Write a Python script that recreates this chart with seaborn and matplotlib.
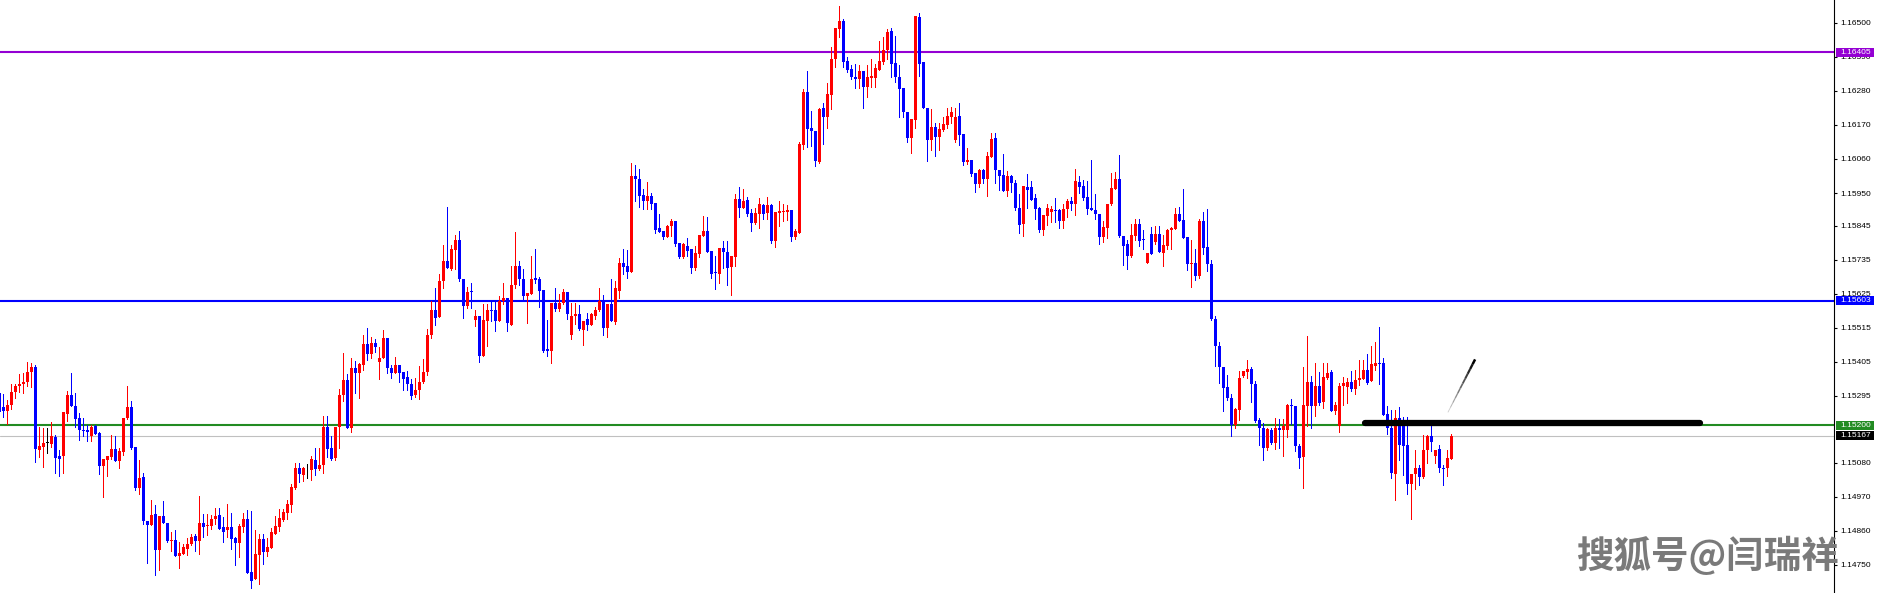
import numpy as np
import pandas as pd
import matplotlib
matplotlib.use("Agg")
import matplotlib.pyplot as plt
import seaborn as sns
from matplotlib.patches import Rectangle
from matplotlib.collections import LineCollection

# candle prices in points (price * 1e5)
opens = [
    115306, 115260, 115247, 115266, 115308, 115327, 115333, 115341, 115371, 115389,
    115122, 115130, 115143, 115141, 115163, 115101, 115102, 115238, 115298, 115263,
    115224, 115186, 115186, 115167, 115197, 115175, 115070, 115089, 115098, 115125,
    115084, 115115, 115224, 115260, 115130, 114999, 115033, 114890, 114879, 114914,
    114797, 114907, 114884, 114826, 114829, 114778, 114785, 114801, 114818, 114842,
    114826, 114884, 114874, 114876, 114897, 114910, 114871, 114861, 114871, 114836,
    114821, 114871, 114897, 114726, 114703, 114783, 114833, 114792, 114805, 114850,
    114873, 114894, 114917, 114944, 114999, 115062, 115041, 115058, 115057, 115088,
    115060, 115073, 115196, 115127, 115096, 115195, 115298, 115347, 115193, 115386,
    115368, 115396, 115464, 115431, 115467, 115403, 115418, 115483, 115386, 115370,
    115396, 115373, 115357, 115334, 115299, 115314, 115339, 115371, 115491, 115574,
    115549, 115665, 115731, 115705, 115765, 115797, 115673, 115585, 115635, 115539,
    115552, 115423, 115536, 115574, 115572, 115538, 115603, 115612, 115525, 115654,
    115716, 115673, 115618, 115624, 115675, 115671, 115638, 115447, 115441, 115596,
    115575, 115596, 115632, 115493, 115554, 115558, 115509, 115543, 115523, 115552,
    115571, 115603, 115513, 115593, 115533, 115635, 115723, 115713, 115694, 116004,
    115996, 115942, 115924, 115939, 115917, 115838, 115826, 115807, 115842, 115859,
    115788, 115743, 115779, 115768, 115709, 115752, 115810, 115826, 115764, 115696,
    115690, 115771, 115759, 115710, 115743, 115932, 115901, 115926, 115886, 115854,
    115883, 115910, 115886, 115910, 115795, 115886, 115888, 115888, 115894, 115807,
    115822, 116105, 116275, 116160, 116149, 116050, 116225, 116196, 116267, 116383,
    116480, 116505, 116376, 116349, 116325, 116318, 116343, 116293, 116322, 116322,
    116347, 116372, 116411, 116473, 116370, 116323, 116288, 116212, 116128, 116187,
    116519, 116374, 116225, 116120, 116162, 116131, 116153, 116169, 116196, 116121,
    116198, 116140, 116049, 116056, 116015, 115978, 116024, 115996, 116067, 116127,
    116024, 116007, 115957, 116004, 115983, 115903, 115849, 115968, 115968, 115934,
    115902, 115830, 115876, 115889, 115894, 115894, 115860, 115900, 115924, 115914,
    115985, 115972, 115936, 115903, 115896, 115883, 115808, 115838, 115913, 115964,
    115995, 115811, 115784, 115747, 115811, 115849, 115802, 115724, 115817, 115792,
    115817, 115756, 115779, 115830, 115834, 115883, 115862, 115808, 115722, 115725,
    115682, 115860, 115775, 115720, 115543, 115457, 115389, 115324, 115288, 115202,
    115250, 115358, 115371, 115383, 115335, 115217, 115193, 115128, 115185, 115144,
    115192, 115186, 115186, 115265, 115263, 115135, 115098, 115264, 115341, 115263,
    115328, 115276, 115354, 115373, 115247, 115198, 115327, 115324, 115341, 115317,
    115346, 115350, 115378, 115342, 115392, 115401, 115401, 115236, 115193, 115044,
    115225, 115215, 115137, 115012, 115042, 115063, 115032, 115121, 115167, 115100,
    115124, 115062, 115061, 115093,
]
highs = [
    115306, 115301, 115281, 115335, 115335, 115365, 115370, 115406, 115400, 115395,
    115195, 115191, 115191, 115212, 115169, 115120, 115243, 115311, 115370, 115303,
    115240, 115224, 115200, 115200, 115201, 115180, 115091, 115100, 115169, 115165,
    115128, 115224, 115327, 115279, 115130, 115088, 115046, 114890, 114960, 114943,
    114907, 114956, 114884, 114855, 114862, 114823, 114817, 114835, 114848, 114848,
    114972, 114914, 114914, 114910, 114934, 114934, 114905, 114945, 114917, 114839,
    114881, 114917, 114928, 114923, 114862, 114848, 114850, 114837, 114869, 114907,
    114929, 114929, 114958, 115012, 115078, 115078, 115067, 115074, 115100, 115127,
    115127, 115229, 115229, 115167, 115196, 115317, 115434, 115366, 115417, 115408,
    115401, 115493, 115515, 115484, 115480, 115452, 115508, 115483, 115396, 115420,
    115396, 115373, 115375, 115350, 115353, 115391, 115414, 115512, 115603, 115644,
    115689, 115781, 115904, 115781, 115815, 115829, 115673, 115646, 115658, 115571,
    115552, 115592, 115592, 115603, 115603, 115619, 115658, 115612, 115713, 115824,
    115729, 115705, 115627, 115748, 115770, 115678, 115638, 115541, 115596, 115642,
    115624, 115640, 115632, 115596, 115596, 115587, 115538, 115564, 115564, 115581,
    115645, 115622, 115593, 115674, 115667, 115739, 115768, 115767, 116048, 116042,
    116026, 115964, 115984, 115950, 115917, 115883, 115826, 115848, 115865, 115861,
    115788, 115790, 115805, 115768, 115780, 115813, 115877, 115871, 115764, 115748,
    115771, 115794, 115794, 115748, 115948, 115971, 115964, 115937, 115897, 115902,
    115934, 115913, 115937, 115913, 115888, 115923, 115913, 115910, 115894, 115835,
    116115, 116287, 116343, 116214, 116149, 116226, 116239, 116304, 116422, 116482,
    116554, 116512, 116390, 116363, 116368, 116363, 116343, 116363, 116381, 116368,
    116441, 116454, 116479, 116482, 116457, 116363, 116288, 116212, 116190, 116521,
    116530, 116374, 116225, 116222, 116176, 116176, 116196, 116226, 116228, 116226,
    116239, 116140, 116094, 116058, 116015, 116027, 116026, 116083, 116144, 116144,
    116024, 116075, 116021, 116007, 115991, 115948, 115972, 116011, 115988, 115948,
    115905, 115878, 115914, 115908, 115935, 115900, 115916, 115932, 115937, 116029,
    116004, 115991, 115988, 116056, 115948, 115883, 115860, 115916, 116015, 116018,
    116074, 115811, 115797, 115851, 115865, 115865, 115830, 115756, 115840, 115843,
    115843, 115813, 115835, 115840, 115902, 115905, 115964, 115808, 115797, 115768,
    115867, 115889, 115900, 115733, 115552, 115470, 115389, 115363, 115301, 115255,
    115376, 115376, 115412, 115387, 115343, 115225, 115209, 115193, 115191, 115223,
    115220, 115220, 115268, 115285, 115263, 115139, 115387, 115489, 115360, 115401,
    115371, 115401, 115401, 115379, 115277, 115337, 115355, 115352, 115374, 115379,
    115412, 115412, 115430, 115457, 115468, 115516, 115419, 115263, 115249, 115250,
    115260, 115228, 115228, 115042, 115121, 115073, 115170, 115170, 115197, 115121,
    115137, 115073, 115121, 115173,
]
lows = [
    115247, 115227, 115206, 115252, 115290, 115309, 115306, 115327, 115325, 115083,
    115098, 115067, 115112, 115130, 115047, 115037, 115047, 115214, 115261, 115195,
    115154, 115166, 115150, 115151, 115173, 115044, 114970, 115037, 115091, 115084,
    115063, 115104, 115221, 115123, 114990, 114979, 114882, 114756, 114879, 114716,
    114733, 114884, 114824, 114793, 114778, 114740, 114784, 114782, 114814, 114796,
    114785, 114839, 114847, 114864, 114882, 114867, 114822, 114841, 114801, 114750,
    114774, 114856, 114724, 114675, 114703, 114688, 114753, 114778, 114805, 114850,
    114859, 114891, 114899, 114921, 114995, 115018, 115020, 115029, 115025, 115040,
    115057, 115045, 115099, 115088, 115088, 115128, 115279, 115190, 115180, 115303,
    115287, 115380, 115411, 115416, 115436, 115351, 115418, 115368, 115353, 115370,
    115339, 115313, 115313, 115284, 115293, 115286, 115337, 115364, 115482, 115525,
    115549, 115643, 115707, 115700, 115705, 115665, 115546, 115578, 115578, 115520,
    115403, 115423, 115455, 115538, 115504, 115536, 115592, 115505, 115525, 115643,
    115654, 115605, 115530, 115624, 115660, 115581, 115438, 115423, 115400, 115568,
    115568, 115592, 115543, 115479, 115527, 115509, 115461, 115509, 115523, 115543,
    115568, 115493, 115486, 115536, 115527, 115612, 115690, 115675, 115694, 115924,
    115905, 115899, 115898, 115898, 115822, 115824, 115800, 115807, 115810, 115779,
    115741, 115741, 115747, 115691, 115703, 115742, 115810, 115759, 115675, 115640,
    115661, 115708, 115652, 115620, 115716, 115874, 115901, 115875, 115829, 115851,
    115837, 115867, 115867, 115790, 115777, 115843, 115859, 115862, 115795, 115801,
    115822, 116093, 116099, 116102, 116037, 116046, 116107, 116159, 116220, 116357,
    116452, 116357, 116341, 116318, 116289, 116289, 116225, 116260, 116291, 116291,
    116347, 116368, 116382, 116323, 116309, 116196, 116196, 116115, 116079, 116161,
    116327, 116225, 116053, 116088, 116070, 116090, 116150, 116161, 116175, 116115,
    116104, 116040, 116045, 116005, 115954, 115968, 115981, 115940, 116067, 115983,
    115959, 115957, 115940, 115954, 115894, 115821, 115810, 115903, 115927, 115867,
    115824, 115813, 115846, 115857, 115857, 115838, 115838, 115871, 115894, 115878,
    115950, 115927, 115883, 115894, 115865, 115786, 115792, 115806, 115910, 115964,
    115808, 115719, 115706, 115743, 115797, 115779, 115768, 115724, 115752, 115784,
    115760, 115714, 115770, 115768, 115833, 115860, 115805, 115702, 115646, 115668,
    115677, 115752, 115698, 115539, 115392, 115338, 115247, 115282, 115166, 115193,
    115218, 115357, 115354, 115277, 115212, 115137, 115089, 115120, 115139, 115123,
    115128, 115101, 115161, 115204, 115118, 115061, 114999, 115198, 115190, 115231,
    115266, 115255, 115349, 115247, 115236, 115180, 115266, 115271, 115312, 115301,
    115330, 115350, 115335, 115342, 115379, 115333, 115234, 115171, 115031, 114958,
    115088, 115040, 114980, 114898, 114996, 115008, 115030, 115078, 115116, 115077,
    115048, 115008, 115038, 115093,
]
closes = [
    115260, 115247, 115266, 115308, 115327, 115333, 115341, 115371, 115389, 115125,
    115132, 115143, 115143, 115166, 115096, 115092, 115243, 115298, 115261, 115219,
    115184, 115182, 115180, 115195, 115173, 115070, 115091, 115100, 115125, 115084,
    115117, 115224, 115260, 115128, 114999, 115031, 114890, 114879, 114911, 114797,
    114907, 114884, 114826, 114829, 114778, 114787, 114807, 114817, 114841, 114826,
    114884, 114873, 114879, 114897, 114908, 114867, 114856, 114871, 114834, 114821,
    114874, 114897, 114724, 114699, 114785, 114833, 114792, 114807, 114855, 114875,
    114901, 114920, 114945, 115002, 115062, 115044, 115063, 115058, 115091, 115060,
    115072, 115196, 115125, 115093, 115196, 115299, 115347, 115193, 115386, 115368,
    115398, 115464, 115432, 115467, 115453, 115418, 115483, 115384, 115370, 115396,
    115370, 115351, 115332, 115295, 115315, 115341, 115373, 115493, 115574, 115547,
    115667, 115729, 115707, 115768, 115797, 115671, 115585, 115632, 115630, 115552,
    115423, 115539, 115574, 115568, 115538, 115603, 115612, 115530, 115654, 115716,
    115671, 115617, 115627, 115673, 115669, 115635, 115441, 115441, 115596, 115575,
    115596, 115632, 115558, 115554, 115559, 115512, 115538, 115523, 115559, 115571,
    115603, 115513, 115593, 115536, 115643, 115723, 115711, 115695, 116004, 115994,
    115940, 115924, 115939, 115914, 115832, 115824, 115807, 115845, 115859, 115784,
    115745, 115784, 115764, 115709, 115755, 115813, 115826, 115761, 115690, 115691,
    115771, 115759, 115708, 115748, 115932, 115901, 115924, 115883, 115854, 115886,
    115915, 115883, 115910, 115795, 115888, 115891, 115892, 115894, 115807, 115826,
    116107, 116275, 116156, 116150, 116052, 116222, 116196, 116269, 116384, 116482,
    116505, 116372, 116347, 116323, 116318, 116343, 116293, 116323, 116327, 116352,
    116376, 116413, 116470, 116368, 116323, 116286, 116212, 116128, 116188, 116521,
    116368, 116225, 116120, 116162, 116131, 116156, 116172, 116198, 116211, 116196,
    116137, 116049, 116056, 116011, 115978, 116024, 115996, 116069, 116124, 116024,
    116005, 115957, 116004, 115981, 115902, 115846, 115972, 115961, 115929, 115900,
    115830, 115878, 115903, 115897, 115892, 115860, 115900, 115924, 115916, 115988,
    115970, 115934, 115900, 115896, 115883, 115808, 115840, 115914, 115966, 115995,
    115810, 115779, 115747, 115813, 115849, 115795, 115797, 115756, 115752, 115817,
    115760, 115781, 115830, 115836, 115883, 115860, 115805, 115722, 115725, 115682,
    115860, 115772, 115722, 115544, 115455, 115387, 115322, 115288, 115202, 115252,
    115354, 115374, 115383, 115332, 115215, 115191, 115128, 115188, 115144, 115190,
    115186, 115198, 115266, 115261, 115133, 115096, 115266, 115341, 115263, 115328,
    115273, 115356, 115369, 115247, 115265, 115328, 115338, 115341, 115317, 115347,
    115352, 115378, 115337, 115399, 115401, 115398, 115234, 115191, 115046, 115225,
    115136, 115134, 115012, 115042, 115063, 115032, 115121, 115167, 115145, 115121,
    115061, 115058, 115095, 115166,
]

# horizontal levels drawn on the chart
level_prices = [1.16405, 1.15603, 1.15200]
level_colors = ['#9400d3', '#0000ff', '#228b22']
last_price = 1.15167
tick_values = [1.16500, 1.16390, 1.16280, 1.16170, 1.16060, 1.15950, 1.15845,
               1.15735, 1.15625, 1.15515, 1.15405, 1.15295, 1.15080, 1.14970,
               1.14860, 1.14750]

# hand drawn marks: thick support bar and thin arrow
bar_level = 1.15207
bar_span = [341.4, 425.2]
arrow_x = [362.1, 368.9]
arrow_y = [1.15242, 1.15413]

sns.set_theme(style="white")
plt.rcParams['font.family'] = ['Liberation Sans', 'DejaVu Sans']

df = pd.DataFrame({'open': opens, 'high': highs, 'low': lows, 'close': closes}) / 1e5
df['idx'] = np.arange(len(df))
up, down = '#ff0000', '#0000ff'
colors = np.where(df['close'] > df['open'], up,
                  np.where(df['close'] < df['open'], down, '#000000'))

fig = plt.figure(figsize=(18.81, 5.93), dpi=100)
ax = fig.add_axes([0, 0, 1834 / 1881, 1])

# levels
for lvl, col in zip(level_prices, level_colors):
    ax.axhline(lvl, color=col, lw=1.5, zorder=1)
ax.axhline(last_price, color='#c0c0c0', lw=0.8, zorder=1)

# candles (4 px per bar, 3 px bodies)
ax.vlines(df['idx'], df['low'], df['high'], colors=colors, lw=0.72, zorder=2, antialiased=False)
body_low = np.minimum(df['open'], df['close'])
body_h = np.maximum((df['close'] - df['open']).abs(), 0.00002)
ax.bar(df['idx'], body_h, width=0.76, bottom=body_low, color=colors, linewidth=0,
       zorder=3, antialiased=False)

# support bar and arrow
ax.plot(bar_span, [bar_level, bar_level], color='black', lw=4.5,
        solid_capstyle='round', zorder=4)
t = np.linspace(0, 1, 12)
px = arrow_x[0] + (arrow_x[1] - arrow_x[0]) * t
py = arrow_y[0] + (arrow_y[1] - arrow_y[0]) * t
segs = np.stack([np.column_stack([px[:-1], py[:-1]]), np.column_stack([px[1:], py[1:]])], axis=1)
shade = np.linspace(0.8, 0.0, len(segs))
lc = LineCollection(segs, colors=[(s, s, s) for s in shade],
                    linewidths=np.linspace(0.6, 1.8, len(segs)), zorder=4)
ax.add_collection(lc)

ax.set_xlim(0.125, 458.625)
ax.set_ylim(1.14659, 1.16573)

# right price axis
ax.yaxis.tick_right()
ax.set_yticks(tick_values)
ax.set_yticklabels([f'{v:.5f}' for v in tick_values])
ax.tick_params(axis='y', direction='out', length=2.5, width=0.8, pad=2,
               labelsize=6, colors='black', right=True, left=False)
ax.set_xticks([])
for side in ['left', 'top', 'bottom']:
    ax.spines[side].set_visible(False)
ax.spines['right'].set_color('black')
ax.spines['right'].set_linewidth(0.8)
ax.grid(False)

# price boxes on the axis
trans = ax.get_yaxis_transform()
box_h = 0.00029
for lvl, col in zip(level_prices + [last_price], level_colors + ['#000000']):
    ax.add_patch(Rectangle((1.0009, lvl - box_h / 2), 0.0209, box_h, transform=trans,
                           facecolor=col, edgecolor='none', clip_on=False, zorder=10))
    ax.text(1.0037, lvl, f'{lvl:.5f}', transform=trans, color='white', fontsize=6,
            va='center', ha='left', clip_on=False, zorder=11)

fig.text(1707 / 1881, 1 - 556 / 593, '搜狐号@闫瑞祥', fontsize=27, color='#7a7a7a',
         fontweight='bold', ha='center', va='center',
         family=['Noto Sans CJK SC', 'DejaVu Sans'])

fig.savefig('out.png', dpi=100)
